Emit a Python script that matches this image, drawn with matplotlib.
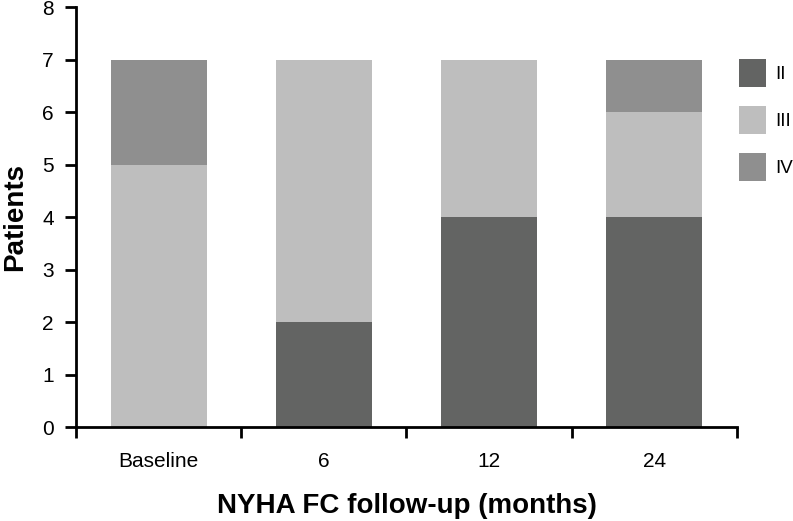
import numpy as np
import matplotlib.pyplot as plt

plt.rcParams['font.family'] = ['Liberation Sans', 'DejaVu Sans']

categories = ["Baseline", "6", "12", "24"]
class_ii = [0, 2, 4, 4]
class_iii = [5, 5, 3, 2]
class_iv = [2, 0, 0, 1]
series_labels = ["II", "III", "IV"]
colors = ["#636463", "#bebebe", "#8f8f8f"]

fig = plt.figure(figsize=(7.93, 5.21), dpi=100)
ax = fig.add_axes([0.0958, 0.1804, 0.8335, 0.806])

x = np.arange(len(categories))
width = 0.58
bottom = np.zeros(len(categories))
handles = []
for vals, lab, col in zip([class_ii, class_iii, class_iv], series_labels, colors):
    b = ax.bar(x, vals, width, bottom=bottom, color=col, label=lab, linewidth=0)
    handles.append(b)
    bottom += np.array(vals)

ax.set_xlim(-0.5, len(categories) - 0.5)
ax.set_ylim(0, 8)
ax.set_yticks(range(0, 9))
ax.set_xticks(x)
ax.set_xticklabels(categories)
ax.set_xticks(np.arange(-0.5, len(categories)), minor=True)
ax.tick_params(axis='x', which='major', length=0, pad=18, labelsize=15)
ax.tick_params(axis='x', which='minor', length=8, width=2, direction='out')
ax.tick_params(axis='y', length=8, width=2, pad=8, labelsize=15)

for s in ['top', 'right']:
    ax.spines[s].set_visible(False)
for s in ['left', 'bottom']:
    ax.spines[s].set_linewidth(2)

ax.set_ylabel("Patients", fontsize=20, fontweight='bold', labelpad=10)
ax.set_xlabel("NYHA FC follow-up (months)", fontsize=20, fontweight='bold', labelpad=16)

fig.legend(handles=handles, labels=series_labels, loc='upper left',
           bbox_to_anchor=(0.932, 0.887), frameon=False, fontsize=13.5,
           handlelength=1.45, handleheight=1.93, labelspacing=1.02,
           handletextpad=0.5, borderpad=0, borderaxespad=0)

fig.savefig("out.png", dpi=100)
